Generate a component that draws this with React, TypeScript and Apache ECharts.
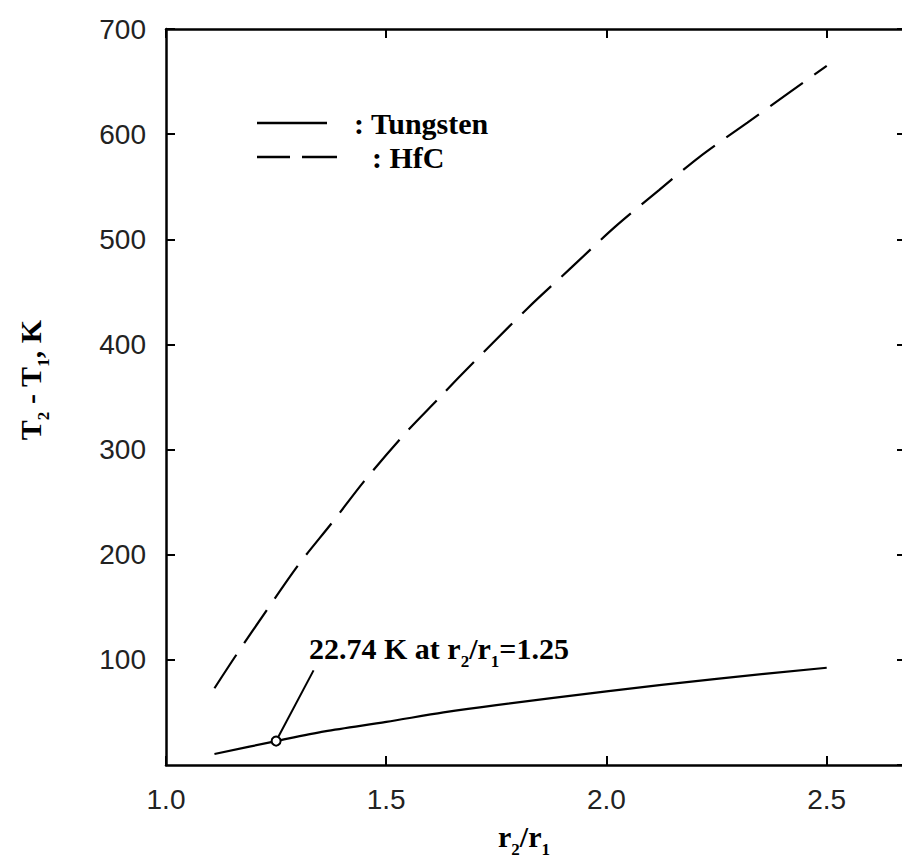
import React, { useEffect, useRef } from "react";
import * as echarts from "echarts";

const tungstenR = [1.11, 1.25, 1.36, 1.5, 1.63, 1.75, 2.0, 2.25, 2.5];
const tungstenT = [10.5, 22.74, 32, 41, 50, 57, 70, 82, 92.5];

const hfcR = [1.11, 1.16, 1.23, 1.3, 1.38, 1.45, 1.54, 1.62, 1.67, 1.82, 1.92, 2.02, 2.12, 2.21, 2.32, 2.41, 2.5];
const hfcT = [73, 105, 148, 190, 232, 270, 314, 349, 371, 434, 473, 512, 547, 578, 611, 638, 665];

const markerPoint = [1.25, 22.74];
const leaderEnd = [1.335, 90];

const xTicks = [1.0, 1.5, 2.0, 2.5];
const yTicks = [100, 200, 300, 400, 500, 600, 700];

const annotationText = "22.74 K at r{s|2}/r{s|1}=1.25";
const yName = "T{s|2} - T{s|1}, K";
const xName = "r{s|2}/r{s|1}";
const legendNames = [": Tungsten", ": HfC"];

const SERIF = "'Liberation Serif', 'Times New Roman', serif";
const SANS = "'Liberation Sans', Arial, sans-serif";

const richSub = {
  s: {
    fontSize: 17,
    fontWeight: "bold",
    fontFamily: SERIF,
    fill: "#000",
    padding: [26, 0, 0, 0],
  },
};

export default function App() {
  const ref = useRef<HTMLDivElement>(null);
  useEffect(() => {
    if (!ref.current) return;
    const chart = echarts.init(ref.current, null, { renderer: "svg" });
    const axisCommon = {
      axisLine: { show: true, onZero: false, lineStyle: { color: "#000", width: 2.5 } },
      axisTick: { show: true, inside: true, length: 9, lineStyle: { color: "#000", width: 2 } },
      splitLine: { show: false },
    };
    const mainText = {
      fontSize: 30,
      fontWeight: "bold",
      fontFamily: SERIF,
      fill: "#000",
      rich: richSub,
    };
    chart.setOption({
      animation: false,
      backgroundColor: "#fff",
      grid: {
        left: 166,
        top: 29,
        right: -4,
        bottom: 96,
        containLabel: false,
        outerBoundsMode: "none",
      },
      xAxis: [
        {
          type: "value",
          position: "bottom",
          min: 1.0,
          max: 2.68,
          interval: 0.5,
          ...axisCommon,
          axisLabel: {
            show: true,
            margin: 20,
            fontSize: 28,
            fontFamily: SANS,
            color: "#222",
            showMaxLabel: false,
            formatter: (v: number) =>
              xTicks.some((t) => Math.abs(t - v) < 1e-6) ? v.toFixed(1) : "",
          },
        },
        {
          type: "value",
          position: "top",
          min: 1.0,
          max: 2.68,
          interval: 0.5,
          ...axisCommon,
          axisLabel: { show: false },
        },
      ],
      yAxis: [
        {
          type: "value",
          position: "left",
          min: 0,
          max: 700,
          interval: 100,
          ...axisCommon,
          axisLabel: {
            show: true,
            margin: 20,
            fontSize: 28,
            fontFamily: SANS,
            color: "#222",
            showMinLabel: false,
            formatter: (v: number) => (yTicks.includes(v) ? String(v) : ""),
          },
        },
        {
          type: "value",
          position: "right",
          min: 0,
          max: 700,
          interval: 100,
          ...axisCommon,
          axisLabel: { show: false },
        },
      ],
      series: [
        {
          name: "Tungsten",
          type: "line",
          data: tungstenR.map((r, i) => [r, tungstenT[i]]),
          showSymbol: false,
          symbol: "none",
          smooth: 0.3,
          lineStyle: { color: "#000", width: 2.2, type: "solid" },
          z: 3,
        },
        {
          name: "HfC",
          type: "line",
          data: hfcR.map((r, i) => [r, hfcT[i]]),
          showSymbol: false,
          symbol: "none",
          smooth: 0.3,
          lineStyle: { color: "#000", width: 2.2, type: [40, 14] },
          z: 3,
        },
        {
          name: "leader",
          type: "line",
          data: [markerPoint, leaderEnd],
          showSymbol: false,
          symbol: "none",
          lineStyle: { color: "#000", width: 2 },
          z: 4,
        },
        {
          name: "marker",
          type: "scatter",
          data: [markerPoint],
          symbol: "circle",
          symbolSize: 9,
          itemStyle: { color: "#fff", borderColor: "#000", borderWidth: 2, opacity: 1 },
          z: 5,
        },
      ],
      graphic: [
        {
          type: "line",
          shape: { x1: 257, y1: 123, x2: 327, y2: 123 },
          style: { stroke: "#000", lineWidth: 2.5 },
        },
        {
          type: "line",
          shape: { x1: 257, y1: 157, x2: 290, y2: 157 },
          style: { stroke: "#000", lineWidth: 2.5 },
        },
        {
          type: "line",
          shape: { x1: 302, y1: 157, x2: 337, y2: 157 },
          style: { stroke: "#000", lineWidth: 2.5 },
        },
        {
          type: "text",
          x: 354,
          y: 123,
          style: { ...mainText, text: legendNames[0], verticalAlign: "middle", align: "left" },
        },
        {
          type: "text",
          x: 372,
          y: 157,
          style: { ...mainText, text: legendNames[1], verticalAlign: "middle", align: "left" },
        },
        {
          type: "text",
          x: 309,
          y: 648,
          style: { ...mainText, text: annotationText, verticalAlign: "middle", align: "left" },
        },
        {
          type: "text",
          x: 524,
          y: 836,
          style: { ...mainText, text: xName, verticalAlign: "middle", align: "center" },
        },
        {
          type: "text",
          x: 30,
          y: 380,
          rotation: Math.PI / 2,
          style: { ...mainText, text: yName, verticalAlign: "middle", align: "center" },
        },
      ],
    });
    return () => chart.dispose();
  }, []);
  return (
    <div
      ref={ref}
      style={{ position: "fixed", left: 0, top: 0, width: 902, height: 861, background: "#fff" }}
    />
  );
}
